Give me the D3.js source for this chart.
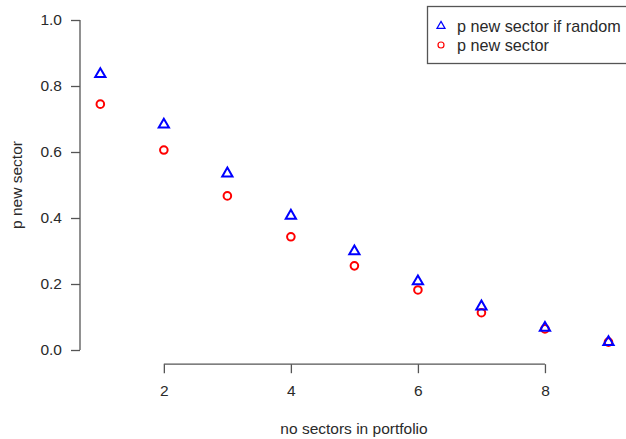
<!DOCTYPE html>
<html>
<head>
<meta charset="utf-8">
<script src="https://cdn.jsdelivr.net/npm/d3@7"></script>
<style>
  html, body { margin: 0; padding: 0; background: #fff; }
  svg { display: block; font-family: "Liberation Sans", Arial, Helvetica, sans-serif; }
</style>
</head>
<body>
<svg id="chart" width="626" height="439"></svg>
<script>
// Number of sectors already held in the portfolio
const sectorCounts = [1, 2, 3, 4, 5, 6, 7, 8, 9];
// Probability that the next pick adds a new sector, if picks were random
const pNewIfRandom = [0.836, 0.683, 0.535, 0.407, 0.299, 0.208, 0.132, 0.067, 0.024];
// Observed probability that the next pick adds a new sector
const pNewObserved = [0.745, 0.606, 0.467, 0.343, 0.255, 0.182, 0.113, 0.064, 0.024];

const xTicks = [2, 4, 6, 8];
const yTicks = [0, 0.2, 0.4, 0.6, 0.8, 1.0];

const seriesNames = ["p new sector if random", "p new sector"];
const seriesColors = ["#0000ff", "#ff0000"];

const FONT = 15.5;
const svg = d3.select("#chart");

// Plot region with a small padding around the data range
const x = d3.scaleLinear().domain([0.68, 9.32]).range([80, 628.8]);
const y = d3.scaleLinear().domain([-0.04, 1.04]).range([363.2, 6.8]);

const axisColor = "#555";
const textColor = "#2a2a2a";

// Left axis
const yAxis = d3.axisLeft(y).tickValues(yTicks).tickFormat(d3.format(".1f")).tickSize(9).tickPadding(9);
const gy = svg.append("g").attr("transform", `translate(${x.range()[0]},0)`).call(yAxis);
gy.select(".domain").remove();
gy.append("line").attr("x1", 0).attr("x2", 0).attr("y1", y(0)).attr("y2", y(1))
  .attr("stroke", axisColor).attr("stroke-width", 1.3);
gy.selectAll(".tick line").attr("stroke", axisColor).attr("stroke-width", 1.3);
gy.selectAll(".tick text").attr("fill", textColor).attr("font-size", FONT)
  .attr("font-family", "'Liberation Sans', Arial, sans-serif");

// Bottom axis
const xAxis = d3.axisBottom(x).tickValues(xTicks).tickFormat(d3.format("d")).tickSize(9).tickPadding(12);
const gx = svg.append("g").attr("transform", `translate(0,${y.range()[0] + 1})`).call(xAxis);
gx.select(".domain").remove();
gx.append("line").attr("x1", x(xTicks[0])).attr("x2", x(xTicks[xTicks.length - 1]))
  .attr("y1", 0).attr("y2", 0).attr("stroke", axisColor).attr("stroke-width", 1.3);
gx.selectAll(".tick line").attr("stroke", axisColor).attr("stroke-width", 1.3);
gx.selectAll(".tick text").attr("fill", textColor).attr("font-size", FONT)
  .attr("font-family", "'Liberation Sans', Arial, sans-serif");

// Axis titles
svg.append("text").attr("x", 354).attr("y", 434)
  .attr("text-anchor", "middle").attr("font-size", FONT).attr("fill", textColor)
  .text("no sectors in portfolio");
svg.append("text")
  .attr("transform", `translate(22,${y(0.5)}) rotate(-90)`)
  .attr("text-anchor", "middle").attr("font-size", FONT).attr("fill", textColor)
  .text("p new sector");

// Marker shapes: open triangle (apex up) and open circle
const s = 3.8;
function trianglePath(cx, cy, size) {
  const r = 1.5551 * size, hx = 1.3468 * size, hy = 0.7776 * size;
  return `M${cx},${cy - r}L${cx + hx},${cy + hy}L${cx - hx},${cy + hy}Z`;
}

const pts = svg.append("g");
pts.selectAll("circle.obs").data(sectorCounts).join("circle")
  .attr("class", "obs")
  .attr("cx", (d) => x(d)).attr("cy", (d, i) => y(pNewObserved[i]))
  .attr("r", s).attr("fill", "none").attr("stroke", seriesColors[1]).attr("stroke-width", 2);
pts.selectAll("path.rand").data(sectorCounts).join("path")
  .attr("class", "rand")
  .attr("d", (d, i) => trianglePath(x(d), y(pNewIfRandom[i]), s))
  .attr("fill", "none").attr("stroke", seriesColors[0]).attr("stroke-width", 2)
  .attr("stroke-linejoin", "miter");

// Legend
const lg = svg.append("g");
lg.append("rect").attr("x", 427.5).attr("y", 6.5).attr("width", 210).attr("height", 57)
  .attr("fill", "#fff").attr("stroke", "#555").attr("stroke-width", 1.3);
const ls = 3;
lg.append("path").attr("d", trianglePath(441, 26, ls))
  .attr("fill", "none").attr("stroke", seriesColors[0]).attr("stroke-width", 1.2);
lg.append("circle").attr("cx", 441).attr("cy", 45).attr("r", ls)
  .attr("fill", "none").attr("stroke", seriesColors[1]).attr("stroke-width", 1.2);
seriesNames.forEach((name, i) => {
  lg.append("text").attr("x", 457).attr("y", 31.5 + i * 19)
    .attr("font-size", 16.2).attr("fill", textColor).text(name);
});
</script>
</body>
</html>
